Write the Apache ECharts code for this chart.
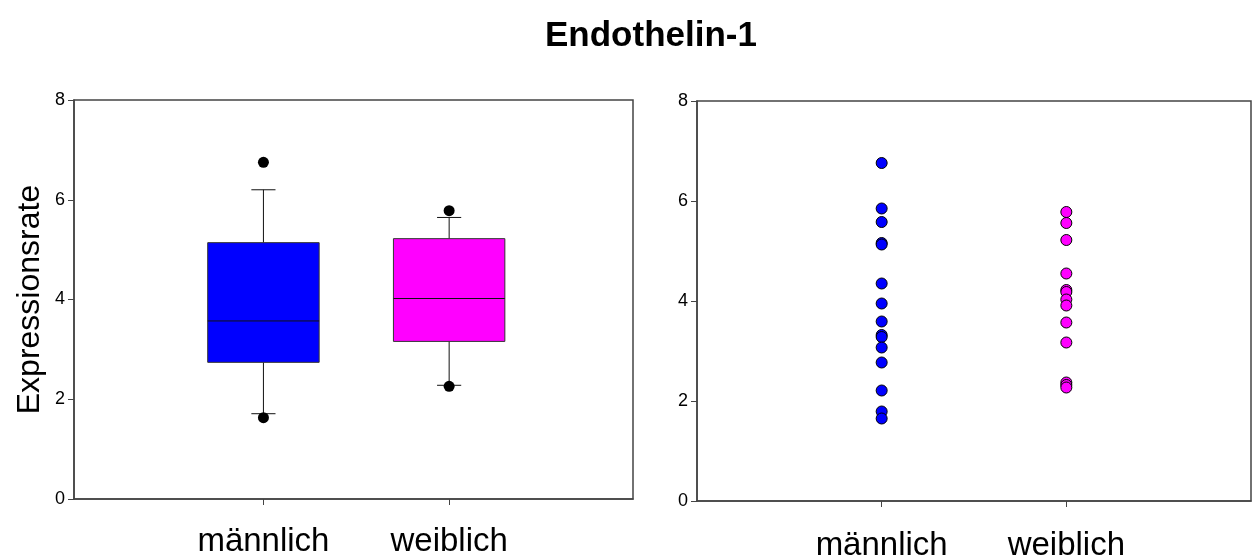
<!DOCTYPE html>
<html>
<head>
<meta charset="utf-8">
<script src="https://cdn.jsdelivr.net/npm/echarts@6/dist/echarts.min.js"></script>
<style>
html,body{margin:0;padding:0;background:#fff;}
#chart{width:1253px;height:556px;}
</style>
</head>
<body>
<div id="chart"></div>
<script>
// ---- data ----
const categories = ['männlich', 'weiblich'];
const yTickValues = [0, 2, 4, 6, 8];
// box stats: [lower whisker, Q1, median, Q3, upper whisker]
const boxMale = [1.71, 2.74, 3.57, 5.14, 6.20];
const boxFemale = [2.28, 3.16, 4.02, 5.22, 5.645];
const outliersMale = [6.75, 1.63];
const outliersFemale = [5.78, 2.26];
// raw points (right panel)
const pointsMale = [6.76, 5.85, 5.58, 5.16, 5.13, 4.35, 3.95, 3.59, 3.32, 3.28, 3.07, 2.77, 2.21, 1.79, 1.65];
const pointsFemale = [5.78, 5.56, 5.22, 4.55, 4.22, 4.18, 4.03, 3.91, 3.57, 3.17, 2.37, 2.32, 2.27];

const FONT = 'Liberation Sans, Arial, Helvetica, sans-serif';
const boxColors = ['#0000FF', '#FF00FF'];

const chart = echarts.init(document.getElementById('chart'), null, {renderer: 'canvas'});

function xAxisCfg(gridIndex, margin, min, max) {
  return {
    type: 'value', gridIndex: gridIndex, min: min, max: max,
    axisLine: {show: true, onZero: false, lineStyle: {color: '#444', width: 1.5}},
    axisTick: {show: true, customValues: [1, 2], length: 6, lineStyle: {color: '#444', width: 1}},
    axisLabel: {
      customValues: [1, 2], margin: margin, fontSize: 33, color: '#000', fontFamily: FONT,
      formatter: v => categories[Math.round(v) - 1] || ''
    },
    splitLine: {show: false}
  };
}
function yAxisCfg(gridIndex, withName) {
  const a = {
    type: 'value', gridIndex: gridIndex, min: 0, max: 8, interval: 2,
    axisLine: {show: true, onZero: false, lineStyle: {color: '#444', width: 1.5}},
    axisTick: {show: true, length: 6, lineStyle: {color: '#444', width: 1}},
    axisLabel: {fontSize: 18, color: '#000', fontFamily: FONT, margin: 9,
      formatter: v => yTickValues.indexOf(v) >= 0 ? String(v) : ''},
    splitLine: {show: false}
  };
  if (withName) {
    a.name = 'Expressionsrate';
    a.nameLocation = 'middle';
    a.nameRotate = 90;
    a.nameGap = 28;
    a.nameTextStyle = {fontSize: 32, color: '#000', fontFamily: FONT};
  }
  return a;
}

const boxData = [
  [1].concat(boxMale),
  [2].concat(boxFemale)
];

function renderBox(params, api) {
  const x = api.value(0);
  const lo = api.value(1), q1 = api.value(2), med = api.value(3), q3 = api.value(4), hi = api.value(5);
  const c = api.coord;
  const bw = api.size([0.6, 0])[0];
  const cw = api.size([0.13, 0])[0];
  const pLo = c([x, lo]), pQ1 = c([x, q1]), pMed = c([x, med]), pQ3 = c([x, q3]), pHi = c([x, hi]);
  const cx = pLo[0];
  const lineStyle = {stroke: '#111', lineWidth: 1};
  return {
    type: 'group',
    children: [
      {type: 'line', shape: {x1: cx, y1: pQ3[1], x2: cx, y2: pHi[1]}, style: lineStyle},
      {type: 'line', shape: {x1: cx, y1: pQ1[1], x2: cx, y2: pLo[1]}, style: lineStyle},
      {type: 'line', shape: {x1: cx - cw / 2, y1: pHi[1], x2: cx + cw / 2, y2: pHi[1]}, style: lineStyle},
      {type: 'line', shape: {x1: cx - cw / 2, y1: pLo[1], x2: cx + cw / 2, y2: pLo[1]}, style: lineStyle},
      {type: 'rect', shape: {x: cx - bw / 2, y: pQ3[1], width: bw, height: pQ1[1] - pQ3[1]},
        style: {fill: boxColors[params.dataIndex], stroke: '#333', lineWidth: 1}},
      {type: 'line', shape: {x1: cx - bw / 2, y1: pMed[1], x2: cx + bw / 2, y2: pMed[1]}, style: lineStyle}
    ]
  };
}

const option = {
  backgroundColor: '#fff',
  animation: false,
  title: {
    text: 'Endothelin-1', left: 540, top: 14,
    textStyle: {fontSize: 35, fontWeight: 'bold', color: '#000', fontFamily: FONT}
  },
  grid: [
    {left: 74, right: 620, top: 100, bottom: 57, show: true, borderColor: '#444', borderWidth: 1.5,
      containLabel: false, outerBoundsMode: 'none'},
    {left: 697, right: 2, top: 101, bottom: 55, show: true, borderColor: '#444', borderWidth: 1.5,
      containLabel: false, outerBoundsMode: 'none'}
  ],
  xAxis: [xAxisCfg(0, 26, -0.02, 2.99), xAxisCfg(1, 28, 0, 3)],
  yAxis: [yAxisCfg(0, true), yAxisCfg(1, false)],
  series: [
    {
      type: 'custom', xAxisIndex: 0, yAxisIndex: 0,
      renderItem: renderBox, data: boxData, z: 2
    },
    {
      type: 'scatter', xAxisIndex: 0, yAxisIndex: 0, symbolSize: 11, z: 5,
      itemStyle: {color: '#000', opacity: 1},
      data: outliersMale.map(v => [1, v]).concat(outliersFemale.map(v => [2, v]))
    },
    {
      type: 'scatter', xAxisIndex: 1, yAxisIndex: 1, symbolSize: 11, z: 5,
      itemStyle: {color: boxColors[0], borderColor: '#000', borderWidth: 1, opacity: 1},
      data: pointsMale.map(v => [1, v])
    },
    {
      type: 'scatter', xAxisIndex: 1, yAxisIndex: 1, symbolSize: 11, z: 5,
      itemStyle: {color: boxColors[1], borderColor: '#000', borderWidth: 1, opacity: 1},
      data: pointsFemale.map(v => [2, v])
    }
  ]
};
chart.setOption(option);
</script>
</body>
</html>
